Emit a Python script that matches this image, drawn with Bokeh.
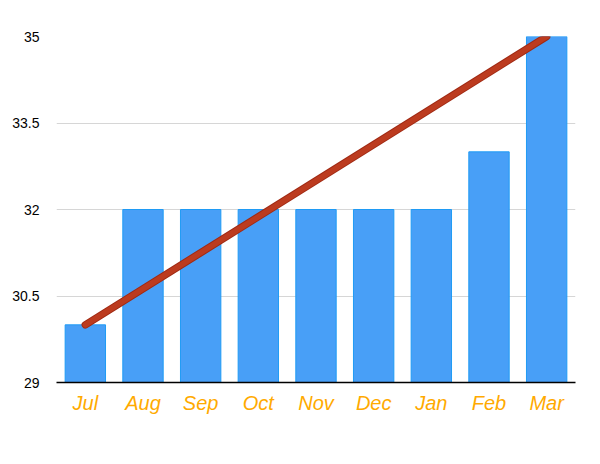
from bokeh.plotting import figure
from bokeh.models import FixedTicker, Range1d, FactorRange, ColumnDataSource
from bokeh.embed import file_html
from bokeh.resources import INLINE

months = ["Jul", "Aug", "Sep", "Oct", "Nov", "Dec", "Jan", "Feb", "Mar"]
values = [30, 32, 32, 32, 32, 32, 32, 33, 35]
trend_x = ["Jul", "Mar"]
trend_y = [30, 35]
y_ticks = [29, 30.5, 32, 33.5, 35]
y_tick_labels = ["29", "30.5", "32", "33.5", "35"]

p = figure(width=584, height=448, x_range=FactorRange(*months, range_padding=0),
           y_range=Range1d(29, 35), output_backend="svg", toolbar_location=None,
           min_border_left=56, min_border_right=9, min_border_top=36, min_border_bottom=66)
p.outline_line_color = None

src = ColumnDataSource(dict(x=months, top=values))
p.vbar(x="x", top="top", bottom=29, width=0.7, source=src,
       fill_color="#489ff7", line_color="#1f9bf5", line_width=1)

p.line(trend_x, trend_y, line_color="#a02a14", line_width=7.5, line_cap="round")
p.line(trend_x, trend_y, line_color="#bc3b1f", line_width=5.5, line_cap="round")

p.xgrid.grid_line_color = None
p.ygrid.grid_line_color = "#d6d6d6"
p.ygrid.grid_line_width = 1

p.yaxis.ticker = FixedTicker(ticks=y_ticks)
p.yaxis.major_label_overrides = {t: l for t, l in zip(y_ticks, y_tick_labels)}
p.yaxis.axis_line_color = None
p.yaxis.major_tick_line_color = None
p.yaxis.minor_tick_line_color = None
p.yaxis.major_label_standoff = 11
p.yaxis.major_label_text_font = "Liberation Sans"
p.yaxis.major_label_text_font_size = "14px"
p.yaxis.major_label_text_color = "#000000"

p.xaxis.axis_line_color = "#000000"
p.xaxis.axis_line_width = 1.5
p.xaxis.major_tick_line_color = None
p.xaxis.minor_tick_line_color = None
p.xaxis.major_label_standoff = 3
p.xaxis.major_label_text_font = "Liberation Sans"
p.xaxis.major_label_text_font_style = "italic"
p.xaxis.major_label_text_font_size = "20px"
p.xaxis.major_label_text_color = "#ffaa00"

open("out.html", "w").write(file_html(p, INLINE))
